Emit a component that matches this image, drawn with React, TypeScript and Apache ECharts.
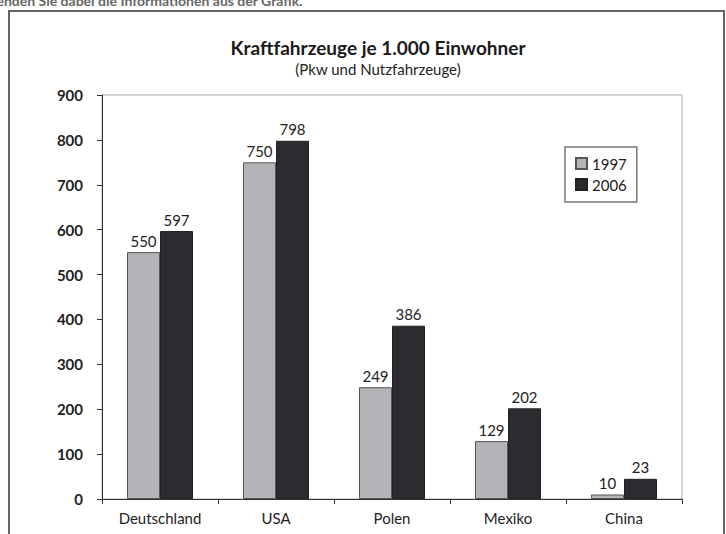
import React, { useEffect, useRef } from "react";
import * as echarts from "echarts";

const categories = ["Deutschland", "USA", "Polen", "Mexiko", "China"];
const years = ["1997", "2006"];
const values1997 = [550, 750, 249, 129, 10];
const values2006 = [597, 798, 386, 202, 45]; // China 2006 bar is drawn taller than its printed label
const labels1997 = ["550", "750", "249", "129", "10"];
const labels2006 = ["597", "798", "386", "202", "23"];
const yTicks = [0, 100, 200, 300, 400, 500, 600, 700, 800, 900];

const FONT = "Lato, 'Open Sans', sans-serif";

export default function App() {
  const ref = useRef<HTMLDivElement>(null);
  useEffect(() => {
    if (!ref.current) return;
    const chart = echarts.init(ref.current, null, { renderer: "svg" });
    const labelStyle = (labels: string[]) => ({
      show: true,
      position: "top" as const,
      distance: 4,
      fontFamily: FONT,
      fontSize: 15,
      color: "#222",
      formatter: (p: any) => labels[p.dataIndex],
    });
    chart.setOption({
      animation: false,
      backgroundColor: "#fff",
      textStyle: { fontFamily: FONT },
      title: {
        text: "Kraftfahrzeuge je 1.000 Einwohner",
        subtext: "(Pkw und Nutzfahrzeuge)",
        left: 373,
        textAlign: "center",
        top: 33,
        itemGap: 4,
        textStyle: { fontFamily: FONT, fontSize: 19, fontWeight: "bold", color: "#1a1a1a" },
        subtextStyle: { fontFamily: FONT, fontSize: 15, color: "#222" },
      },
      legend: {
        data: years,
        orient: "vertical",
        left: 565,
        top: 147,
        padding: [9, 10, 10, 10],
        itemGap: 6,
        itemWidth: 11,
        itemHeight: 11,
        borderColor: "#777",
        borderWidth: 1.5,
        icon: "rect",
        textStyle: { fontFamily: FONT, fontSize: 15, color: "#222" },
      },
      grid: {
        left: 102,
        top: 95,
        right: 44,
        bottom: 35,
        show: true,
        borderColor: "#aaa",
        borderWidth: 1,
        backgroundColor: "transparent",
      },
      xAxis: {
        type: "category",
        data: categories,
        axisLine: { lineStyle: { color: "#333", width: 1 } },
        axisTick: { show: true, length: 5, lineStyle: { color: "#333" } },
        axisLabel: { fontFamily: FONT, fontSize: 15, color: "#222", margin: 11 },
      },
      yAxis: {
        type: "value",
        min: yTicks[0],
        max: yTicks[yTicks.length - 1],
        interval: 100,
        axisLine: { show: true, lineStyle: { color: "#333", width: 1 } },
        axisTick: { show: true, length: 5, lineStyle: { color: "#333" } },
        splitLine: { show: false },
        axisLabel: { fontFamily: FONT, fontSize: 15, fontWeight: "bold", color: "#222", margin: 19 },
      },
      series: [
        {
          name: years[0],
          type: "bar",
          data: values1997,
          barWidth: 33,
          barGap: "0%",
          itemStyle: { color: "#b3b4b7", borderColor: "#555", borderWidth: 1 },
          label: labelStyle(labels1997),
        },
        {
          name: years[1],
          type: "bar",
          data: values2006,
          barWidth: 33,
          itemStyle: { color: "#2c2c30", borderColor: "#222", borderWidth: 1 },
          label: labelStyle(labels2006),
        },
      ],
      graphic: [
        {
          type: "rect",
          shape: { x: 9, y: 11, width: 715, height: 540 },
          style: { fill: "none", stroke: "#666", lineWidth: 2 },
          silent: true,
        },
        {
          type: "text",
          x: -36,
          y: 0,
          style: {
            text: "Verwenden Sie dabei die Informationen aus der Grafik.",
            fontFamily: FONT,
            fontSize: 14,
            fontWeight: "bold",
            fill: "#666",
            verticalAlign: "middle",
          },
          silent: true,
        },
      ],
    });
    return () => chart.dispose();
  }, []);
  return (
    <div
      ref={ref}
      style={{ position: "fixed", left: 0, top: 0, width: 726, height: 534 }}
    />
  );
}
